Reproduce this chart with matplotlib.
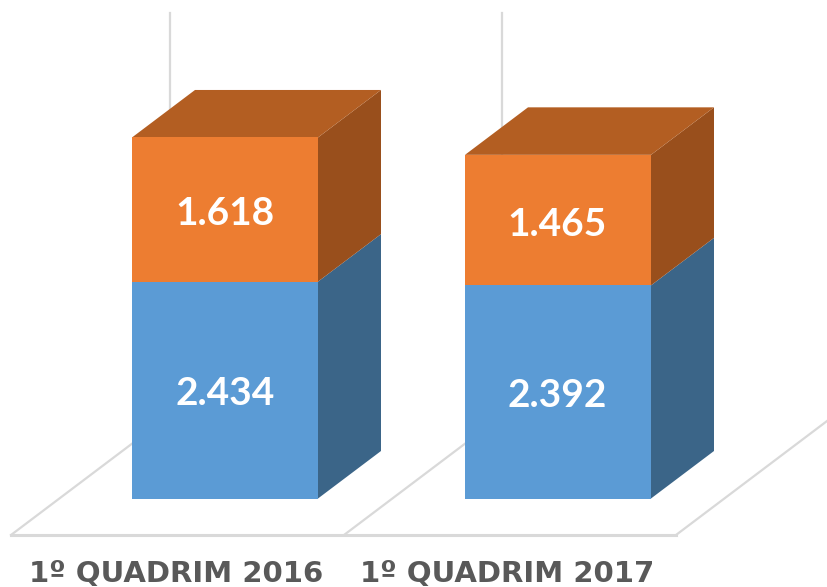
import matplotlib
matplotlib.use('Agg')
import matplotlib.pyplot as plt

categories = ['1º QUADRIM 2016', '1º QUADRIM 2017']
serie_azul = [2434, 2392]
serie_laranja = [1618, 1465]
rotulos_azul = ['2.434', '2.392']
rotulos_laranja = ['1.618', '1.465']

# pixels per unit, the axes run over the whole figure
esc = 0.0891
base_y = 498.5
y_un = lambda p: p / esc
dx = 63
dy = y_un(47.5)
pos = [225, 558]
pos_cat = [176.5, 507]
larg = 186

fig = plt.figure(figsize=(8.28, 5.87), dpi=100)
ax = fig.add_axes([0, 0, 1, 1])
ax.set_xlim(0, 828)
ax.set_ylim(-y_un(587 - base_y), y_un(base_y))
ax.axis('off')

# floor and back wall
chao = y_un(base_y - 535)
fundo = chao + y_un(120)
topo = y_un(base_y - 13)
cinza = '#d9d9d9'
ax.plot([11, 676], [chao, chao], color=cinza, lw=2.2, zorder=1)
for x0 in [11, 344, 676]:
    ax.plot([x0, x0 + 159], [chao, fundo], color=cinza, lw=1.6, zorder=1)
for x0 in [170, 502]:
    ax.plot([x0, x0], [fundo, topo], color=cinza, lw=1.6, zorder=1)

ax.bar(pos, serie_azul, width=larg, color='#5b9bd5', zorder=3)
ax.bar(pos, serie_laranja, width=larg, bottom=serie_azul, color='#ed7d31', zorder=3)

for i, x in enumerate(pos):
    dir_x = x + larg / 2
    esq_x = x - larg / 2
    a = serie_azul[i]
    t = a + serie_laranja[i]
    ax.fill([dir_x, dir_x + dx, dir_x + dx, dir_x], [0, dy, a + dy, a], color='#3b6588', lw=0, zorder=2)
    ax.fill([dir_x, dir_x + dx, dir_x + dx, dir_x], [a, a + dy, t + dy, t], color='#994f1c', lw=0, zorder=2)
    ax.fill([esq_x, dir_x, dir_x + dx, esq_x + dx], [t, t, t + dy, t + dy], color='#b35e22', lw=0, zorder=2)
    ax.text(x - i, a / 2 - y_un(3.5), rotulos_azul[i], color='white', ha='center', va='center',
            family='Lato', weight='bold', fontsize=28, zorder=4)
    ax.text(x - i, a + serie_laranja[i] / 2 - y_un(4), rotulos_laranja[i], color='white', ha='center', va='center',
            family='Lato', weight='bold', fontsize=28, zorder=4)
    ax.text(pos_cat[i], -y_un(76), categories[i], color='#595959', ha='center', va='center',
            family='DejaVu Sans', weight='bold', fontsize=21, zorder=4)

fig.savefig('out.png', dpi=100)
